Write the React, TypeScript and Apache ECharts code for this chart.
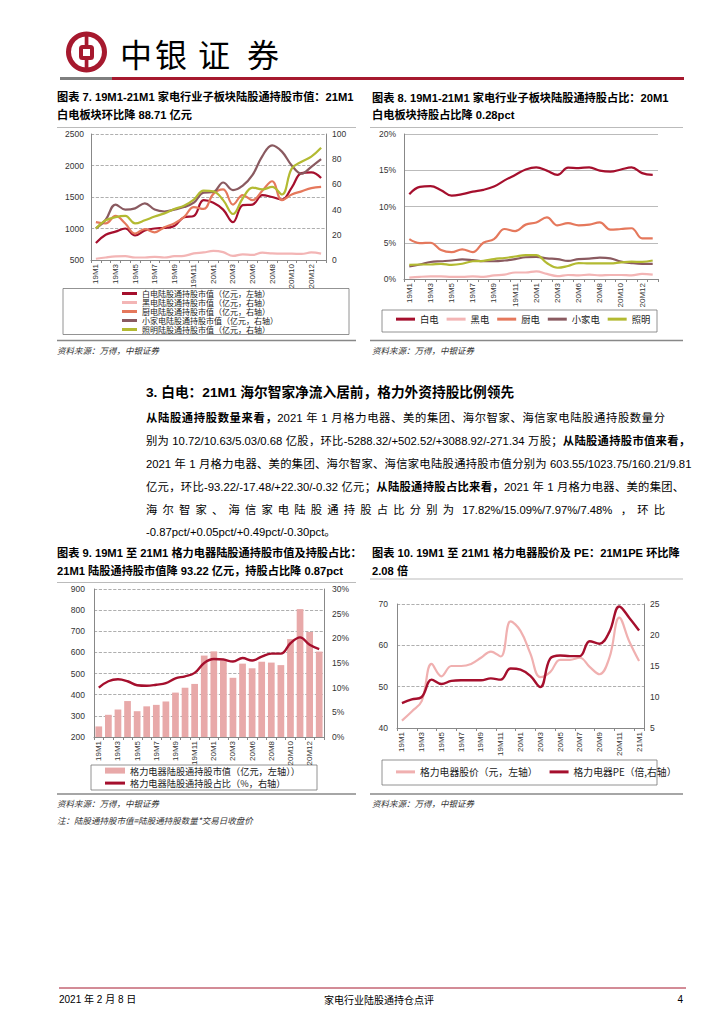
import React, { useEffect, useRef } from 'react';
import * as echarts from 'echarts';

// ---------- categories ----------
const catsA = ['19M1', '19M2', '19M3', '19M4', '19M5', '19M6', '19M7', '19M8', '19M9', '19M10', '19M11', '19M12',
  '20M1', '20M2', '20M3', '20M4', '20M6', '20M7', '20M8', '20M9', '20M10', '20M11', '20M12', '21M1'];
const catsB = ['19M1', '19M2', '19M3', '19M4', '19M5', '19M6', '19M7', '19M8', '19M9', '19M10', '19M11', '19M12',
  '20M1', '20M2', '20M3', '20M4', '20M5', '20M6', '20M7', '20M8', '20M9', '20M10', '20M11', '20M12', '21M1'];

// ---------- chart 7: market value (亿元) ----------
const baidianMV = [770, 900, 950, 1000, 890, 970, 1000, 1010, 1040, 1180, 1200, 1450, 1410, 1300, 1100, 1370, 1380, 1530, 1500, 1460, 1650, 1880, 1890, 1800];
const heidianMV = [1, 2, 2.8, 3, 2, 2, 2.5, 2, 3, 3.3, 5.2, 6, 7.2, 6.2, 3.2, 4.5, 4, 5.8, 5.2, 5, 5, 4.8, 6, 5];
const chudianMV = [30, 29, 35, 29, 21, 24.5, 22, 26, 29, 34, 42, 40.5, 52.5, 56, 44, 51.5, 47.5, 55, 62.5, 47.5, 52, 54.5, 57, 58];
const xiaojiadianMV = [25, 32, 44, 40, 41, 45, 40, 38.5, 40, 42, 45.5, 53.5, 54, 61.5, 55.5, 59, 67.5, 82.5, 91, 86, 75, 68.5, 74, 80];
const zhaomingMV = [25, 31.5, 34, 35, 29, 31.5, 34.5, 37, 40.5, 43, 48, 55, 54.5, 47.5, 36.5, 49, 57.5, 56, 58, 52, 72.5, 78, 82, 89];

// ---------- chart 8: share (%) ----------
const baidianPct = [11.7, 12.7, 12.8, 12.25, 11.5, 11.7, 12.05, 12.3, 12.75, 13.6, 14.35, 15.1, 15.4, 14.95, 14.35, 15.35, 15.3, 15.4, 14.95, 14.8, 15.1, 15.4, 14.6, 14.35];
const heidianPct = [0.2, 0.3, 0.35, 0.35, 0.3, 0.3, 0.35, 0.3, 0.5, 0.6, 0.9, 0.9, 1.05, 0.7, 0.4, 0.55, 0.5, 0.6, 0.5, 0.55, 0.55, 0.5, 0.7, 0.6];
const chudianPct = [5.5, 4.95, 5.0, 4.0, 3.7, 4.1, 3.7, 5.0, 5.5, 6.9, 6.6, 7.5, 7.8, 8.5, 7.4, 7.7, 7.4, 7.5, 7.8, 6.8, 6.9, 7.0, 5.6, 5.6];
const xiaojiadianPct = [1.75, 2.0, 2.35, 2.45, 2.55, 2.7, 2.6, 2.45, 2.45, 2.55, 2.75, 3.0, 3.05, 2.85, 2.75, 2.5, 2.75, 2.8, 2.95, 2.85, 2.4, 2.2, 2.1, 2.1];
const zhaomingPct = [1.95, 2.0, 2.0, 2.1, 1.95, 2.1, 2.45, 2.5, 2.75, 2.9, 3.1, 3.3, 3.3, 2.2, 1.55, 1.8, 2.2, 2.15, 2.15, 2.15, 2.3, 2.4, 2.35, 2.55];

// ---------- chart 9: Gree ----------
const geliMV = [250, 305, 330, 370, 322, 345, 352, 368, 410, 433, 451, 585, 605, 560, 480, 547, 525, 556, 552, 540, 663, 805, 697, 604];
const geliPct = [10.0, 11.3, 11.7, 11.3, 10.5, 10.4, 10.6, 10.9, 11.9, 12.3, 13.0, 15.0, 15.8, 15.7, 15.3, 16.0, 15.5, 16.3, 16.9, 16.9, 19.0, 20.2, 18.69, 17.82];

// ---------- chart 10: Gree price & PE ----------
const geliPrice = [41.8, 44, 46.5, 55.5, 52.5, 55, 55, 55.5, 57, 58.5, 57.3, 65.8, 63.5, 58, 52.3, 53.5, 56.5, 56.5, 57, 54.8, 53, 57, 66.7, 61, 56.2];
const geliPE = [9.0, 9.6, 10.0, 12.8, 12.1, 12.6, 12.7, 12.7, 12.7, 13.0, 12.8, 14.6, 14.4, 13.4, 11.6, 16.2, 16.7, 16.6, 16.6, 19.0, 18.6, 20.5, 24.6, 22.8, 20.72];

// ---------- body paragraph (segments: [text, bold]) ----------
const paraLines: [string, boolean][][] = [
  [['从陆股通持股数量来看，', true], ['2021 年 1 月格力电器、美的集团、海尔智家、海信家电陆股通持股数量分', false]],
  [['别为 10.72/10.63/5.03/0.68 亿股，环比-5288.32/+502.52/+3088.92/-271.34 万股；', false], ['从陆股通持股市值来看，', true]],
  [['2021 年 1 月格力电器、美的集团、海尔智家、海信家电陆股通持股市值分别为 603.55/1023.75/160.21/9.81', false]],
  [['亿元，环比-93.22/-17.48/+22.30/-0.32 亿元；', false], ['从陆股通持股占比来看，', true], ['2021 年 1 月格力电器、美的集团、', false]],
  [['海尔智家、海信家电陆股通持股占比分别为 17.82%/15.09%/7.97%/7.48% ，环比', false]],
  [['-0.87pct/+0.05pct/+0.49pct/-0.30pct。', false]],
];

const RED = '#A6192E';
const C_BAI = '#A50F2D';
const C_HEI = '#F3B5B5';
const C_CHU = '#E5785C';
const C_XIAO = '#8A5A60';
const C_ZHAO = '#B3BA32';
const C_BAR = '#E8A9A9';
const FONT = '"Liberation Sans", "Noto Sans CJK SC", sans-serif';
const CJK = '"Noto Sans CJK SC", "Liberation Sans", sans-serif';

function txt(x: number, y: number, text: string, o: any = {}) {
  const style: any = {
    text,
    fill: o.fill || '#000',
    fontSize: o.size || 11,
    fontWeight: o.weight || 'normal',
    fontFamily: o.family || FONT,
    fontStyle: o.fstyle || 'normal',
    align: o.align || 'left',
    verticalAlign: 'middle',
    textAlign: o.align || 'left',
    textVerticalAlign: 'middle',
  };
  return { type: 'text', x, y, silent: true, style };
}
function hline(x1: number, x2: number, y: number, color: string, w: number) {
  return { type: 'line', silent: true, shape: { x1, y1: y, x2, y2: y }, style: { stroke: color, lineWidth: w } };
}
function box(x: number, y: number, w: number, h: number) {
  return { type: 'rect', silent: true, shape: { x, y, width: w, height: h }, style: { fill: 'none', stroke: '#777', lineWidth: 0.8 } };
}

// justified line of text: split into CJK chars / latin runs and spread them over the width
function justified(x0: number, y: number, width: number, segs: [string, boolean][], size: number, doJustify: boolean) {
  const canvas = document.createElement('canvas');
  const ctx = canvas.getContext('2d')!;
  const measure = (s: string, b: boolean) => {
    ctx.font = `${b ? 'bold ' : ''}${size}px ${FONT}`;
    return ctx.measureText(s).width;
  };
  type Tok = { s: string; b: boolean; sp: boolean; w: number };
  const toks: Tok[] = [];
  let run: Tok | null = null;
  let pendingSpace = false;
  const flush = () => { if (run) { toks.push(run); run = null; } };
  for (const [text, b] of segs) {
    flush();
    for (const ch of text) {
      const code = ch.codePointAt(0) || 0;
      if (ch === ' ') { flush(); pendingSpace = true; continue; }
      if (code >= 0x2e80) {
        flush();
        toks.push({ s: ch, b, sp: pendingSpace, w: 0 });
        pendingSpace = false;
      } else {
        if (!run) { run = { s: ch, b, sp: pendingSpace, w: 0 }; pendingSpace = false; }
        else run.s += ch;
      }
    }
  }
  flush();
  const spaceW = measure(' ', false);
  let natural = 0;
  toks.forEach((t, i) => { t.w = measure(t.s, t.b); natural += t.w + (i > 0 && t.sp ? spaceW : 0); });
  let extra = doJustify && toks.length > 1 ? (width - natural) / (toks.length - 1) : 0;
  if (extra < 0.3 && doJustify) extra = Math.max(extra, 0.3);
  const out: any[] = [];
  let x = x0;
  toks.forEach((t, i) => {
    if (i > 0) x += extra + (t.sp ? spaceW : 0);
    out.push(txt(x, y, t.s, { size, weight: t.b ? 'bold' : 'normal' }));
    x += t.w;
  });
  return out;
}

const axisLbl = { fontSize: 8.5, color: '#333', fontFamily: FONT };
const xLbl = { fontSize: 8, color: '#333', fontFamily: FONT, rotate: 90, interval: 1, margin: 4 };
const axLine = { show: true, lineStyle: { color: '#888', width: 1 } };
const dashSplit = { show: true, lineStyle: { color: '#9a9a9a', type: 'dashed', width: 0.8 } };
const plain = (v: number) => String(v);

function lineSeries(name: string, data: number[], color: string, xi: number, yi: number, width = 2.2) {
  return {
    name, type: 'line', data, xAxisIndex: xi, yAxisIndex: yi, smooth: 0.4, showSymbol: false,
    lineStyle: { color, width }, itemStyle: { color }, z: 3,
  };
}

function buildOption() {
  const P = 11.2;
  const src = { size: 8.5, fstyle: 'italic', fill: '#333', family: CJK };
  const graphic: any[] = [
    // logo
    { type: 'ring', silent: true, shape: { cx: 86.5, cy: 52, r: 20.5, r0: 15.5 }, style: { fill: RED } },
    { type: 'rect', silent: true, shape: { x: 81, y: 47, width: 11, height: 11, r: 1.5 }, style: { fill: 'none', stroke: RED, lineWidth: 4 } },
    { type: 'rect', silent: true, shape: { x: 84.7, y: 34, width: 3.7, height: 12 }, style: { fill: RED } },
    { type: 'rect', silent: true, shape: { x: 84.7, y: 59, width: 3.7, height: 12 }, style: { fill: RED } },
    txt(136, 53, '中', { size: 32, family: CJK, align: 'center' }),
    txt(171, 53, '银', { size: 32, family: CJK, align: 'center' }),
    txt(214, 53, '证', { size: 32, family: CJK, align: 'center' }),
    txt(263, 53, '券', { size: 32, family: CJK, align: 'center' }),
    { type: 'rect', silent: true, shape: { x: 60, y: 77, width: 52, height: 3 }, style: { fill: '#7f7f7f' } },
    { type: 'rect', silent: true, shape: { x: 112, y: 77, width: 572, height: 3 }, style: { fill: RED } },

    // chart 7 title
    txt(57, 97, '图表 7. 19M1-21M1 家电行业子板块陆股通持股市值：21M1', { size: P, weight: 'bold' }),
    txt(57, 115, '白电板块环比降 88.71 亿元', { size: P, weight: 'bold' }),
    hline(57, 356, 127.5, '#aaa', 0.8),
    // chart 8 title
    txt(372, 98, '图表 8. 19M1-21M1 家电行业子板块陆股通持股占比：20M1', { size: P, weight: 'bold' }),
    txt(372, 115, '白电板块持股占比降 0.28pct', { size: P, weight: 'bold' }),
    hline(370, 683, 127.5, '#aaa', 0.8),

    box(63, 288.5, 286, 46),
    box(382, 310, 275, 22),
    hline(57, 356, 340.5, '#888', 1.5),
    hline(370, 683, 340.5, '#888', 1.5),
    txt(57, 350, '资料来源：万得，中银证券', src),
    txt(372, 350, '资料来源：万得，中银证券', src),

    // section
    txt(146, 392, '3. 白电：21M1 海尔智家净流入居前，格力外资持股比例领先', { size: 13.7, weight: 'bold' }),

    // chart 9 title
    txt(57, 553, '图表 9. 19M1 至 21M1 格力电器陆股通持股市值及持股占比：', { size: P, weight: 'bold' }),
    txt(57, 571, '21M1 陆股通持股市值降 93.22 亿元，持股占比降 0.87pct', { size: P, weight: 'bold' }),
    hline(57, 356, 582.5, '#aaa', 0.8),
    // chart 10 title
    txt(372, 553, '图表 10. 19M1 至 21M1 格力电器股价及 PE：21M1PE 环比降', { size: P, weight: 'bold' }),
    txt(372, 571, '2.08 倍', { size: P, weight: 'bold' }),
    hline(370, 683, 579, '#aaa', 0.8),

    box(91, 765, 226, 25),
    box(382, 760, 275, 25),
    hline(57, 356, 794, '#888', 1.5),
    hline(370, 683, 794, '#888', 1.5),
    txt(57, 803, '资料来源：万得，中银证券', src),
    txt(57, 819.5, '注：陆股通持股市值=陆股通持股数量*交易日收盘价', src),
    txt(372, 803, '资料来源：万得，中银证券', src),

    // footer
    hline(59, 686, 988, RED, 1),
    txt(59, 999, '2021 年 2 月 8 日', { size: 10 }),
    txt(379, 999, '家电行业陆股通持仓点评', { size: 10, align: 'center', family: CJK }),
    txt(683, 999, '4', { size: 10, align: 'right' }),
  ];
  const lineYs = [418, 441, 464, 487, 510, 532];
  paraLines.forEach((segs, i) => {
    graphic.push(...justified(146, lineYs[i], 519, segs, 11.3, i < paraLines.length - 1));
  });

  const legendText = { fontSize: 8.5, color: '#222', fontFamily: CJK };

  return {
    animation: false,
    backgroundColor: '#fff',
    graphic,
    grid: [
      { left: 91, top: 134, width: 235, height: 126 },
      { left: 404, top: 134, width: 254, height: 145 },
      { left: 94, top: 589, width: 230, height: 148 },
      { left: 397, top: 604, width: 247, height: 124 },
    ],
    legend: [
      {
        data: ['白电陆股通持股市值（亿元，左轴）', '黑电陆股通持股市值（亿元，右轴）', '厨电陆股通持股市值（亿元，右轴）', '小家电陆股通持股市值（亿元，右轴）', '照明陆股通持股市值（亿元，右轴）'],
        orient: 'vertical', left: 122, top: 289.5, padding: 0, itemGap: 1, itemWidth: 15, itemHeight: 3, icon: 'rect',
        textStyle: { ...legendText, fontSize: 8 },
      },
      {
        data: ['白电', '黑电', '厨电', '小家电', '照明'],
        orient: 'horizontal', left: 396, top: 314.5, padding: 0, itemGap: 8, itemWidth: 19, itemHeight: 3, icon: 'rect',
        textStyle: { ...legendText, fontSize: 9.3 },
      },
      {
        data: ['格力电器陆股通持股市值（亿元，左轴））'],
        left: 105, top: 766, padding: 0, itemWidth: 20, itemHeight: 6, icon: 'rect',
        textStyle: { ...legendText, fontSize: 9.2 },
      },
      {
        data: ['格力电器陆股通持股占比（%，右轴）'],
        left: 105, top: 778.5, padding: 0, itemWidth: 20, itemHeight: 3, icon: 'rect',
        textStyle: { ...legendText, fontSize: 9.2 },
      },
      {
        data: ['格力电器股价（元，左轴）', '格力电器PE（倍,右轴）'],
        orient: 'horizontal', left: 396, top: 767, padding: 0, itemGap: 12, itemWidth: 19, itemHeight: 3, icon: 'rect',
        textStyle: { ...legendText, fontSize: 9.8 },
      },
    ],
    xAxis: [
      { gridIndex: 0, type: 'category', data: catsA, boundaryGap: true, axisLine: axLine, axisTick: { show: true, length: 3, interval: 0, lineStyle: { color: '#888' } }, axisLabel: xLbl },
      { gridIndex: 1, type: 'category', data: catsA, boundaryGap: true, axisLine: axLine, axisTick: { show: true, length: 3, interval: 0, lineStyle: { color: '#888' } }, axisLabel: xLbl },
      { gridIndex: 2, type: 'category', data: catsA, boundaryGap: true, axisLine: axLine, axisTick: { show: true, length: 3, interval: 0, lineStyle: { color: '#888' } }, axisLabel: xLbl },
      { gridIndex: 3, type: 'category', data: catsB, boundaryGap: true, axisLine: axLine, axisTick: { show: true, length: 3, interval: 1, lineStyle: { color: '#888' } }, axisLabel: xLbl },
    ],
    yAxis: [
      { gridIndex: 0, type: 'value', min: 500, max: 2500, interval: 500, axisLine: axLine, axisTick: { show: false }, splitLine: dashSplit, axisLabel: { ...axisLbl, margin: 7, formatter: plain } },
      { gridIndex: 0, type: 'value', position: 'right', min: 0, max: 100, interval: 20, axisLine: axLine, axisTick: { show: false }, splitLine: { show: false }, axisLabel: { ...axisLbl, margin: 6, formatter: plain } },
      { gridIndex: 1, type: 'value', min: 0, max: 20, interval: 5, axisLine: axLine, axisTick: { show: false }, splitLine: { show: true, lineStyle: { color: '#aaa', width: 0.8 } }, axisLabel: { ...axisLbl, margin: 8, formatter: '{value}%' } },
      { gridIndex: 2, type: 'value', min: 200, max: 900, interval: 100, axisLine: axLine, axisTick: { show: false }, splitLine: dashSplit, axisLabel: { ...axisLbl, margin: 9, formatter: plain } },
      { gridIndex: 2, type: 'value', position: 'right', min: 0, max: 30, interval: 5, axisLine: axLine, axisTick: { show: false }, splitLine: { show: false }, axisLabel: { ...axisLbl, margin: 8, formatter: '{value}%' } },
      { gridIndex: 3, type: 'value', min: 40, max: 70, interval: 10, axisLine: axLine, axisTick: { show: false }, splitLine: dashSplit, axisLabel: { ...axisLbl, margin: 9, formatter: plain } },
      { gridIndex: 3, type: 'value', position: 'right', min: 5, max: 25, interval: 5, axisLine: axLine, axisTick: { show: false }, splitLine: { show: false }, axisLabel: { ...axisLbl, margin: 6, formatter: plain } },
    ],
    series: [
      lineSeries('白电陆股通持股市值（亿元，左轴）', baidianMV, C_BAI, 0, 0),
      lineSeries('黑电陆股通持股市值（亿元，右轴）', heidianMV, C_HEI, 0, 1),
      lineSeries('厨电陆股通持股市值（亿元，右轴）', chudianMV, C_CHU, 0, 1),
      lineSeries('小家电陆股通持股市值（亿元，右轴）', xiaojiadianMV, C_XIAO, 0, 1),
      lineSeries('照明陆股通持股市值（亿元，右轴）', zhaomingMV, C_ZHAO, 0, 1),

      lineSeries('白电', baidianPct, C_BAI, 1, 2),
      lineSeries('黑电', heidianPct, C_HEI, 1, 2),
      lineSeries('厨电', chudianPct, C_CHU, 1, 2),
      lineSeries('小家电', xiaojiadianPct, C_XIAO, 1, 2),
      lineSeries('照明', zhaomingPct, C_ZHAO, 1, 2),

      { name: '格力电器陆股通持股市值（亿元，左轴））', type: 'bar', data: geliMV, xAxisIndex: 2, yAxisIndex: 3, barWidth: '70%', itemStyle: { color: C_BAR }, z: 2 },
      lineSeries('格力电器陆股通持股占比（%，右轴）', geliPct, C_BAI, 2, 4, 2.4),

      lineSeries('格力电器股价（元，左轴）', geliPrice, '#F0B0B0', 3, 5, 2.2),
      lineSeries('格力电器PE（倍,右轴）', geliPE, C_BAI, 3, 6, 2.4),
    ],
  };
}

export default function App() {
  const ref = useRef<HTMLDivElement>(null);
  useEffect(() => {
    if (!ref.current) return;
    const chart = echarts.init(ref.current, null, { renderer: 'svg' });
    chart.setOption(buildOption() as any);
    return () => chart.dispose();
  }, []);
  return (
    <div
      ref={ref}
      style={{ position: 'absolute', left: 0, top: 0, width: 724, height: 1024, background: '#fff' }}
    />
  );
}
